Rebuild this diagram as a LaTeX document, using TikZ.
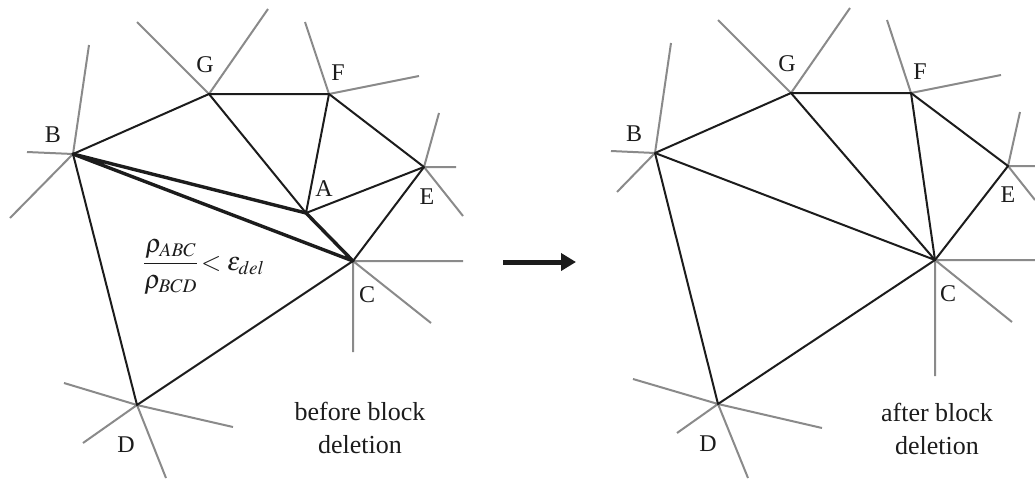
\documentclass[tikz,border=0pt]{standalone}
\usepackage{amsmath}
\usepackage{mathptmx}
\usepackage{fontspec}
\setmainfont{Liberation Serif}
\usetikzlibrary{arrows.meta}
\definecolor{meshblack}{RGB}{28,28,28}
\definecolor{raygray}{RGB}{138,138,138}

\begin{document}
\begin{tikzpicture}[
    x=1pt, y=-1pt,
    edge/.style={draw=meshblack, line width=2pt, line join=round},
    thickedge/.style={draw=meshblack, line width=3.4pt, line join=round},
    ray/.style={draw=raygray, line width=2pt},
    vlabel/.style={font=\fontsize{24}{24}\selectfont, text=meshblack, inner sep=0pt},
    caption/.style={font=\fontsize{26}{33}\selectfont, align=center, text=meshblack},
    bigarrow/.style={-{Triangle[length=15pt, width=17pt]}, line width=5pt, meshblack}
]
\useasboundingbox (0,0) rectangle (1035,479);

% Before: mesh vertices
\coordinate (B1) at (73,154);
\coordinate (G1) at (209,94);
\coordinate (F1) at (329,94);
\coordinate (E1) at (424,167);
\coordinate (A1) at (306,213);
\coordinate (C1) at (353,261);
\coordinate (D1) at (137,405);

% Before: neighbouring edges
\draw[ray] (B1) -- (89,45) (B1) -- (27,152) (B1) -- (10,218);
\draw[ray] (G1) -- (137,22) (G1) -- (268,9);
\draw[ray] (F1) -- (305,22) (F1) -- (419,76);
\draw[ray] (E1) -- (439,113) (E1) -- (456,167) (E1) -- (463,216);
\draw[ray] (C1) -- (463,261) (C1) -- (431,323) (C1) -- (353,352);
\draw[ray] (D1) -- (64,383) (D1) -- (233,427) (D1) -- (83,443) (D1) -- (166,478);

% Before: elements
\draw[edge] (B1) -- (G1) -- (F1) -- (E1) -- (C1) -- (D1) -- cycle;
\draw[edge] (G1) -- (A1) -- (F1);
\draw[edge] (A1) -- (E1);
\draw[thickedge] (B1) -- (A1) -- (C1) -- cycle;

% Before: labels
\node[vlabel] (lB1) at (53,135) {B};
\node[vlabel] (lG1) at (205,65) {G};
\node[vlabel] (lF1) at (338,73) {F};
\node[vlabel] (lE1) at (427,197) {E};
\node[vlabel] (lA1) at (324,189) {A};
\node[vlabel] (lC1) at (367,295) {C};
\node[vlabel] (lD1) at (126,445) {D};
\node[anchor=west, inner sep=0pt, font=\fontsize{26}{30}\selectfont, text=meshblack] (crit) at (143,267)
    {$\dfrac{\rho_{ABC}}{\rho_{BCD}}\! < \varepsilon_{del}$};
\node[caption] (before) at (360,428) {before block\\deletion};

% Transition arrow
\coordinate (arrS) at (503,262);
\coordinate (arrE) at (576,262);
\draw[bigarrow] (arrS) -- (arrE);

% After: mesh vertices
\coordinate (B2) at (655,153);
\coordinate (G2) at (791,93);
\coordinate (F2) at (911,93);
\coordinate (E2) at (1008,166);
\coordinate (C2) at (935,260);
\coordinate (D2) at (718,404);

% After: neighbouring edges
\draw[ray] (B2) -- (671,43) (B2) -- (611,151) (B2) -- (617,192);
\draw[ray] (G2) -- (718,20) (G2) -- (850,8);
\draw[ray] (F2) -- (887,20) (F2) -- (1001,75);
\draw[ray] (E2) -- (1020,112) (E2) -- (1035,166) (E2) -- (1035,200);
\draw[ray] (C2) -- (1035,260) (C2) -- (1012,322) (C2) -- (935,376);
\draw[ray] (D2) -- (633,379) (D2) -- (822,428) (D2) -- (677,433) (D2) -- (748,478);

% After: elements
\draw[edge] (B2) -- (G2) -- (F2) -- (E2) -- (C2) -- (D2) -- cycle;
\draw[edge] (B2) -- (C2) -- (G2);
\draw[edge] (F2) -- (C2);

% After: labels
\node[vlabel] (lB2) at (634,134) {B};
\node[vlabel] (lG2) at (787,64) {G};
\node[vlabel] (lF2) at (920,72) {F};
\node[vlabel] (lE2) at (1008,195) {E};
\node[vlabel] (lC2) at (948,294) {C};
\node[vlabel] (lD2) at (708,444) {D};
\node[caption] (after) at (937,429) {after block\\deletion};

\end{tikzpicture}
\end{document}
